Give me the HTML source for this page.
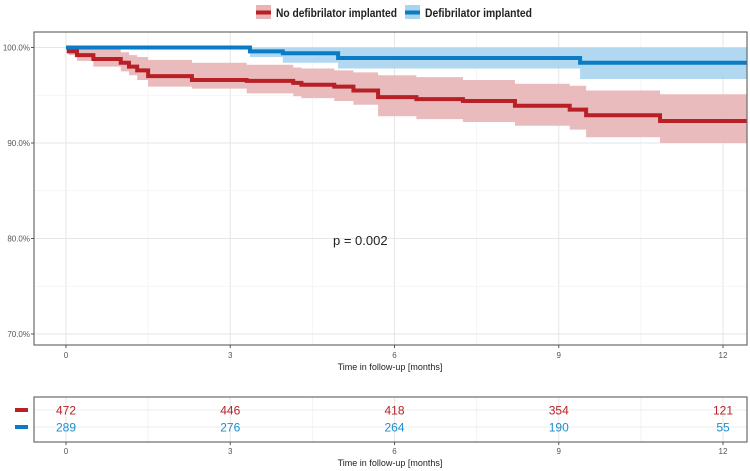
<!DOCTYPE html>
<html><head><meta charset="utf-8"><style>
html,body{margin:0;padding:0;background:#fff;}
svg{display:block;font-family:"Liberation Sans",sans-serif;}
</style></head><body>
<svg id="chart" width="750" height="471" viewBox="0 0 750 471"></svg>
<script>
const xTicks=[0,3,6,9,12];
const yTicks=[70,80,90,100];
const redT=[0,0.05,0.2,0.5,1.0,1.15,1.3,1.5,2.3,3.3,4.15,4.3,4.9,5.25,5.7,6.4,7.25,8.2,9.2,9.5,10.85];
const redS=[100,99.6,99.2,98.8,98.4,98.0,97.6,97.0,96.6,96.5,96.3,96.1,95.9,95.5,94.8,94.6,94.4,93.9,93.5,92.9,92.3];
const redUpper=[100,100,100,99.9,99.5,99.2,99.0,98.7,98.4,98.2,97.9,97.8,97.6,97.4,97.1,96.9,96.6,96.2,96.0,95.5,95.1];
const redLower=[100,99.2,98.6,98.0,97.5,97.1,96.6,95.9,95.7,95.2,94.9,94.7,94.4,94.0,92.8,92.5,92.2,91.8,91.4,90.6,90.0];
const blueT=[0,3.36,3.96,4.97,9.39];
const blueS=[100,99.6,99.4,98.9,98.4];
const blueUpper=[100,100,100,100,100];
const blueLower=[100,99.0,98.4,97.8,96.7];
const riskRed=[472,446,418,354,121];
const riskBlue=[289,276,264,190,55];
const tEnd=12.45;

const NS="http://www.w3.org/2000/svg";
const svg=document.getElementById('chart');
const P={l:34,r:747,t:32,b:345};
const x=t=>66+t*54.75;
const y=v=>47.5+(100-v)*9.55;
function el(tag,attrs,parent){const e=document.createElementNS(NS,tag);for(const k in attrs)e.setAttribute(k,attrs[k]);(parent||svg).appendChild(e);return e;}

// legend
const lg=el('g',{});


el('rect',{x:256,y:5,width:15,height:14,fill:'#e8b4b5'},lg);
el('rect',{x:256,y:10.5,width:15,height:4,fill:'#b82025'},lg);
const lt1=el('text',{x:276,y:17,'font-size':12,'font-weight':'bold',fill:'#222',textLength:121,lengthAdjust:'spacingAndGlyphs'},lg);lt1.textContent='No defibrilator implanted';


el('rect',{x:405,y:5,width:15,height:14,fill:'#a9d4ee'},lg);
el('rect',{x:405,y:10.5,width:15,height:4,fill:'#0a7bc4'},lg);
const lt2=el('text',{x:425,y:17,'font-size':12,'font-weight':'bold',fill:'#222',textLength:107,lengthAdjust:'spacingAndGlyphs'},lg);lt2.textContent='Defibrilator implanted';



// grid main panel
const grid=el('g',{});


for(let i=0;i<xTicks.length;i++){
  el('line',{x1:x(xTicks[i]),x2:x(xTicks[i]),y1:P.t,y2:P.b,stroke:'#e6e6e6','stroke-width':1},grid);
  if(i<xTicks.length-1){const m=(xTicks[i]+xTicks[i+1])/2;el('line',{x1:x(m),x2:x(m),y1:P.t,y2:P.b,stroke:'#f2f2f2','stroke-width':0.8},grid);}
}
for(let i=0;i<yTicks.length;i++){
  el('line',{x1:P.l,x2:P.r,y1:y(yTicks[i]),y2:y(yTicks[i]),stroke:'#e6e6e6','stroke-width':1},grid);
  if(i<yTicks.length-1){const m=(yTicks[i]+yTicks[i+1])/2;el('line',{x1:P.l,x2:P.r,y1:y(m),y2:y(m),stroke:'#f2f2f2','stroke-width':0.8},grid);}
}

function stepPath(T,S){let d=`M${x(T[0])},${y(S[0])}`;for(let i=1;i<T.length;i++){d+=` H${x(T[i])} V${y(S[i])}`;}d+=` H${x(tEnd)}`;return d;}
function band(T,U,L){let d=`M${x(T[0])},${y(U[0])}`;for(let i=1;i<T.length;i++)d+=` H${x(T[i])} V${y(U[i])}`;d+=` H${x(tEnd)} V${y(L[L.length-1])}`;for(let i=T.length-1;i>=1;i--)d+=` H${x(T[i])} V${y(L[i-1])}`;d+=` H${x(T[0])} Z`;return d;}

const cp=el('clipPath',{id:'clp'});el('rect',{x:P.l,y:P.t,width:P.r-P.l,height:P.b-P.t},cp);
const g=el('g',{'clip-path':'url(#clp)'});
const rb=el('path',{d:band(redT,redUpper,redLower),fill:'#e8b4b5','fill-opacity':0.9},g);


const bb=el('path',{d:band(blueT,blueUpper,blueLower),fill:'#a9d4ee','fill-opacity':0.9},g);


const rl=el('path',{d:stepPath(redT,redS),fill:'none',stroke:'#b82025','stroke-width':4},g);


const bl=el('path',{d:stepPath(blueT,blueS),fill:'none',stroke:'#0a7bc4','stroke-width':4},g);



const frame=el('rect',{x:P.l,y:P.t,width:P.r-P.l,height:P.b-P.t,fill:'none',stroke:'#6b6b6b','stroke-width':1.2});



// y axis
yTicks.forEach(v=>{
  el('line',{x1:P.l-3,x2:P.l,y1:y(v),y2:y(v),stroke:'#555'});
  const t=el('text',{x:P.l-4,y:y(v)+3,'font-size':8,fill:'#555','text-anchor':'end'});t.textContent=v.toFixed(1)+'%';
  
  
});
// x axis
xTicks.forEach(v=>{
  el('line',{x1:x(v),x2:x(v),y1:P.b,y2:P.b+3,stroke:'#555'});
  const t=el('text',{x:x(v),y:P.b+13,'font-size':8,fill:'#555','text-anchor':'middle'});t.textContent=v;
  
  
});
const xt=el('text',{x:390,y:370,'font-size':9,fill:'#222','text-anchor':'middle'});xt.textContent='Time in follow-up [months]';


const pv=el('text',{x:333,y:245,'font-size':13,fill:'#222'});pv.textContent='p = 0.002';



// risk table
const R={t:397,b:442};
const rt=el('g',{});


for(let i=0;i<xTicks.length;i++){
  el('line',{x1:x(xTicks[i]),x2:x(xTicks[i]),y1:R.t,y2:R.b,stroke:'#e6e6e6'},rt);
  if(i<xTicks.length-1){const m=(xTicks[i]+xTicks[i+1])/2;el('line',{x1:x(m),x2:x(m),y1:R.t,y2:R.b,stroke:'#f2f2f2'},rt);}
}
el('line',{x1:P.l,x2:P.r,y1:410,y2:410,stroke:'#eee'},rt);
el('line',{x1:P.l,x2:P.r,y1:427,y2:427,stroke:'#eee'},rt);
el('rect',{x:P.l,y:R.t,width:P.r-P.l,height:R.b-R.t,fill:'none',stroke:'#6b6b6b','stroke-width':1.2},rt);
el('rect',{x:15,y:408,width:13,height:4,fill:'#b82025'},rt);
el('rect',{x:15,y:425,width:13,height:4,fill:'#0a7bc4'},rt);
xTicks.forEach((v,i)=>{
  const a=el('text',{x:x(v),y:414.5,'font-size':12,fill:'#b82025','text-anchor':'middle'},rt);a.textContent=riskRed[i];
  
  
  const b=el('text',{x:x(v),y:431.5,'font-size':12,fill:'#1b8ed0','text-anchor':'middle'},rt);b.textContent=riskBlue[i];
  
  
  el('line',{x1:x(v),x2:x(v),y1:R.b,y2:R.b+3,stroke:'#555'},rt);
  const t=el('text',{x:x(v),y:R.b+12,'font-size':8,fill:'#555','text-anchor':'middle'},rt);t.textContent=v;
  
  
});
const xt2=el('text',{x:390,y:466,'font-size':9,fill:'#222','text-anchor':'middle'});xt2.textContent='Time in follow-up [months]';


</script>
</body></html>
